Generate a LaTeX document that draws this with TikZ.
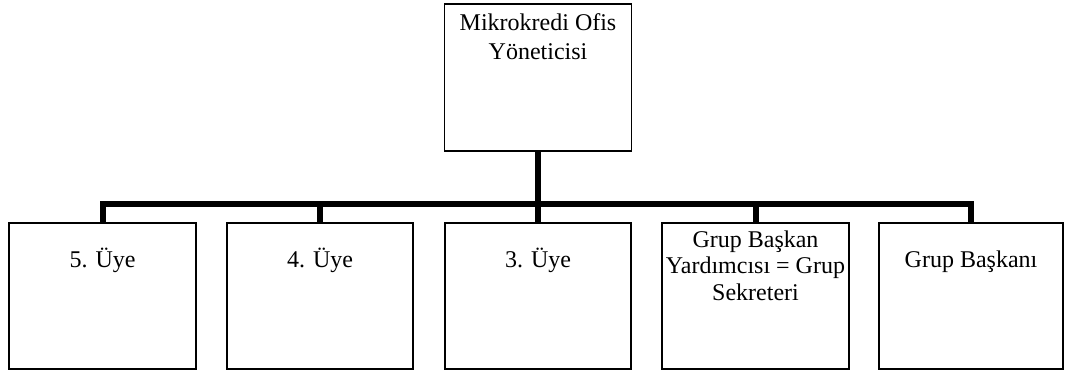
\documentclass[tikz,border=0pt]{standalone}
\usepackage{fontspec}
\setmainfont{Liberation Serif}
\usetikzlibrary{positioning, calc}
\tikzset{
    post/.style={rectangle, draw, line width=1.5pt, minimum width=187pt, minimum height=146pt, inner sep=0pt},
    posttext/.style={anchor=base, align=center, inner sep=0pt, font=\fontsize{24}{26.5}\selectfont},
    tie/.style={line width=6pt}
}
\begin{document}
\begin{tikzpicture}[x=1pt, y=-1pt]
    \useasboundingbox (0,0) rectangle (1065,374);

    % --- OFFICE MANAGER ---
    \node[post, minimum height=147pt, label={[posttext, font=\fontsize{24}{29}\selectfont, yshift=-56pt]north:Mikrokredi Ofis\\Yöneticisi}] (chief) at (538,77.5) {};

    % --- GROUP MEMBERS ---
    \node[post, label={[posttext, yshift=-45pt]north:5. Üye}] (u5) at (102.5,296) {};
    \node[post, minimum width=186pt, label={[posttext, yshift=-45pt]north:4. Üye}] (u4) at (320,296) {};
    \node[post, minimum width=186pt, label={[posttext, yshift=-45pt]north:3. Üye}] (u3) at (538,296) {};
    \node[post, label={[posttext, yshift=-78pt]north:Grup Başkan\\Yardımcısı = Grup\\Sekreteri}] (deputy) at (755.5,296) {};
    \node[post, minimum width=184pt, label={[posttext, yshift=-45pt]north:Grup Başkanı}] (lead) at (971,296) {};

    % Bus line
    \coordinate (bus) at (538,204);
    \draw[tie] (chief.south) -- (u3.north);
    \draw[tie] (u5.north) -- (u5.north |- bus) -- (lead.north |- bus) -- (lead.north);
    \foreach \m in {u4, deputy}
        \draw[tie] (\m.north) -- (\m.north |- bus);

\end{tikzpicture}
\end{document}
